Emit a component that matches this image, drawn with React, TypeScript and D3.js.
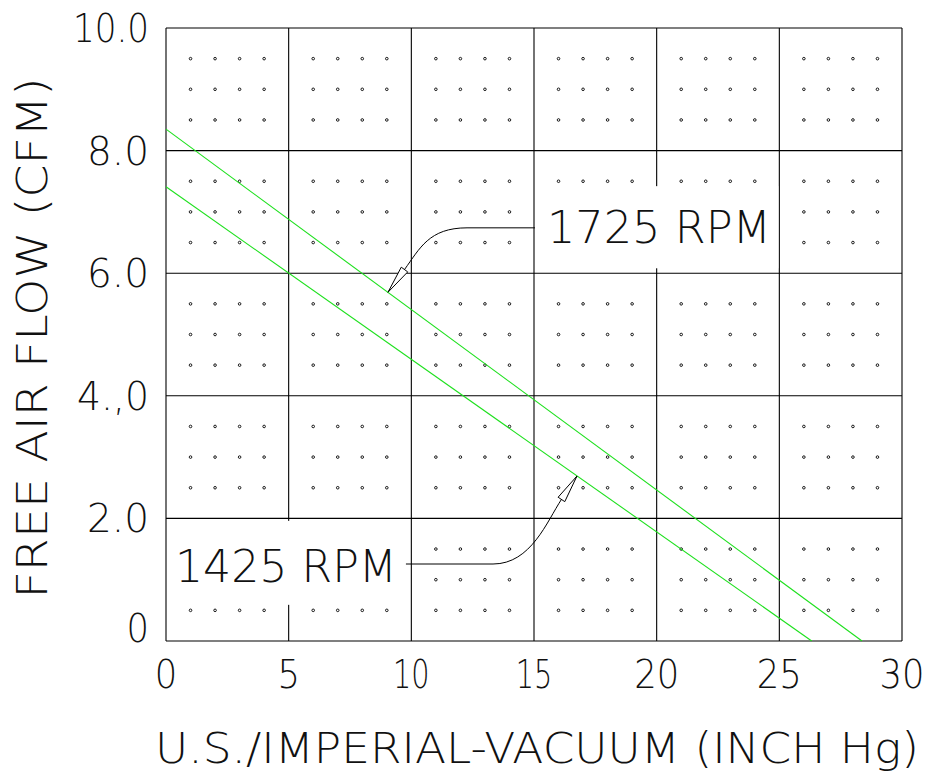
import * as d3 from 'd3';

// axis ranges and tick labels
const xTicks = [0, 5, 10, 15, 20, 25, 30];
const xTickLabels = ['0', '5', '10', '15', '20', '25', '30'];
const yTicks = [10, 8, 6, 4, 2, 0];
const yTickLabels = ['10.0', '8.0', '6.0', '4.,0', '2.0', '0'];

// two straight performance lines (vacuum inch Hg, free air flow CFM)
const rpm1725 = [
  { vac: 0, cfm: 8.35 },
  { vac: 28.37, cfm: 0 },
];
const rpm1425 = [
  { vac: 0, cfm: 7.41 },
  { vac: 26.32, cfm: 0 },
];

const W = 931;
const H = 778;
const FONT = '"DejaVu Sans", "Liberation Sans", sans-serif';

// rough advance widths of the CAD-style digits
const charW: { [k: string]: number } = { '1': 14, '.': 17, ',': 10 };
const labelWidth = (s: string) =>
  s.split('').reduce((a, c) => a + (charW[c] ?? 22.5), 0);

type P = [number, number];

// horizontal run, then a curve into a long thin arrowhead
function leader(h0: P, h1: P, aim: P, tip: P) {
  const dx = tip[0] - aim[0];
  const dy = tip[1] - aim[1];
  const n = Math.hypot(dx, dy);
  const ux = dx / n;
  const uy = dy / n;
  const len = 28;
  const hw = 4;
  const base: P = [tip[0] - ux * len, tip[1] - uy * len];
  const c1: P = [h1[0] + Math.sign(tip[0] - h1[0]) * 38, h1[1]];
  const c2: P = [base[0] - ux * 26, base[1] - uy * 26];
  const path = d3.path();
  path.moveTo(h0[0], h0[1]);
  path.lineTo(h1[0], h1[1]);
  path.bezierCurveTo(c1[0], c1[1], c2[0], c2[1], base[0], base[1]);
  path.lineTo(tip[0], tip[1]);
  const px = -uy * hw;
  const py = ux * hw;
  const head = [
    [base[0] + px, base[1] + py],
    [tip[0], tip[1]],
    [base[0] - px, base[1] - py],
  ];
  return { d: path.toString(), head: head.map(p => p.join(',')).join(' ') };
}

export default function App() {
  const x = d3.scaleLinear().domain([0, 30]).range([166, 902]);
  const y = d3.scaleLinear().domain([0, 10]).range([641, 28]);

  const line = d3
    .line<{ vac: number; cfm: number }>()
    .x(d => x(d.vac))
    .y(d => y(d.cfm));

  const dots: P[] = [];
  d3.range(0, 30).forEach(i => {
    if (i % 5 === 0) return;
    d3.range(0.5, 10, 0.5).forEach(j => {
      if (Math.abs(j % 2) < 1e-6) return;
      dots.push([x(i), y(j)]);
    });
  });

  const l1725 = leader([x(15.04), y(6.74)], [x(12.27), y(6.74)], [x(9.74), y(6.07)], [x(9.05), y(5.69)]);
  const l1425 = leader([x(9.78), y(1.256)], [x(13.33), y(1.256)], [x(16.12), y(2.31)], [x(16.75), y(2.69)]);

  return (
    <svg
      xmlns="http://www.w3.org/2000/svg"
      width={W}
      height={H}
      style={{ position: 'absolute', left: 0, top: 0, background: '#fff' }}
    >
      <rect x={0} y={0} width={W} height={H} fill="#fff" />
      <g stroke="#000" strokeWidth={0.9}>
        {dots.map((p, i) => (
          <circle key={i} cx={p[0]} cy={p[1]} r={1.3} fill="#fff" />
        ))}
      </g>
      <g stroke="#000" strokeWidth={1.1}>
        {xTicks.map(t => (
          <line key={'vx' + t} x1={x(t)} x2={x(t)} y1={y(0)} y2={y(10)} />
        ))}
        {yTicks.map(t => (
          <line key={'hy' + t} x1={x(0)} x2={x(30)} y1={y(t)} y2={y(t)} />
        ))}
      </g>
      {/* white label boxes knock out grid and dots */}
      <rect x={x(15) + 1} y={y(7.42)} width={x(25) - x(15) - 2} height={y(6.08) - y(7.42)} fill="#fff" />
      <rect x={x(0) + 1} y={y(1.96)} width={x(9.9) - x(0)} height={y(0.59) - y(1.96)} fill="#fff" />

      <g fill="none" stroke="#1ee01e" strokeWidth={1.1}>
        <path d={line(rpm1725) ?? ''} />
        <path d={line(rpm1425) ?? ''} />
      </g>

      <g fill="none" stroke="#000" strokeWidth={1}>
        <path d={l1725.d} />
        <polygon points={l1725.head} fill="#fff" />
        <path d={l1425.d} />
        <polygon points={l1425.head} fill="#fff" />
      </g>

      <g fontFamily={FONT} fontWeight={200} fill="#111">
        {xTicks.map((t, i) => (
          <text
            key={'xt' + t}
            x={x(t)}
            y={688}
            fontSize={38.5}
            textAnchor="middle"
            textLength={labelWidth(xTickLabels[i])}
            lengthAdjust="spacingAndGlyphs"
          >
            {xTickLabels[i]}
          </text>
        ))}
        {yTicks.map((t, i) => (
          <text
            key={'yt' + t}
            x={149}
            y={t === 0 ? y(t) + 1 : y(t) + 14}
            fontSize={38.5}
            textAnchor="end"
            textLength={labelWidth(yTickLabels[i])}
            lengthAdjust="spacingAndGlyphs"
          >
            {yTickLabels[i]}
          </text>
        ))}
        <text x={155} y={763} fontSize={42.5} textLength={764} lengthAdjust="spacingAndGlyphs">
          U.S./IMPERIAL-VACUUM (INCH Hg)
        </text>
        <text
          transform="translate(47,338) rotate(-90)"
          fontSize={42.5}
          textAnchor="middle"
          textLength={521}
          lengthAdjust="spacingAndGlyphs"
        >
          FREE AIR FLOW (CFM)
        </text>
        <text x={547} y={243} fontSize={45} textLength={224} lengthAdjust="spacingAndGlyphs">
          1725 RPM
        </text>
        <text x={175} y={582} fontSize={45} textLength={222} lengthAdjust="spacingAndGlyphs">
          1425 RPM
        </text>
      </g>
    </svg>
  );
}
